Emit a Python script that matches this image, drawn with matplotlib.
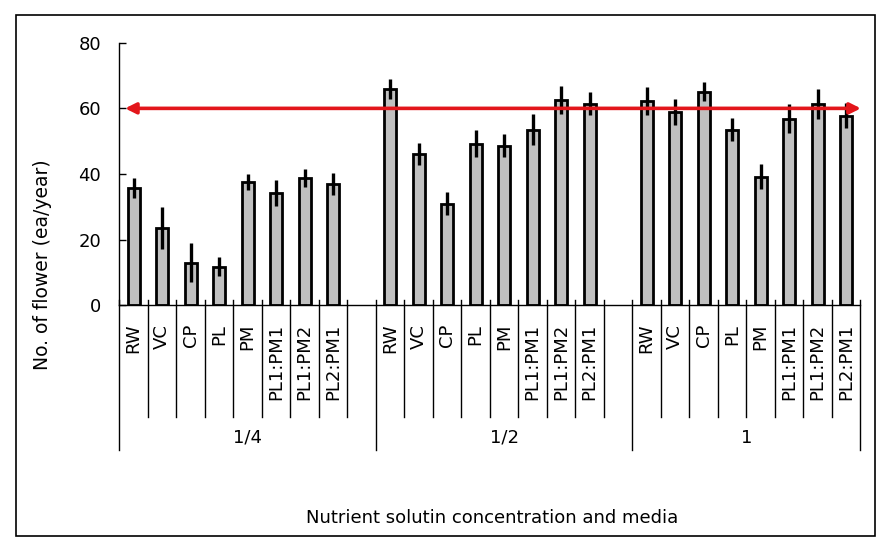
import matplotlib.pyplot as plt
import matplotlib.patches as patches
import numpy as np

plt.rcParams['font.family'] = ['DejaVu Sans']

# Data
groups = ["1/4", "1/2", "1"]
media = ["RW", "VC", "CP", "PL", "PM", "PL1:PM1", "PL1:PM2", "PL2:PM1"]
flowers_q = [35.7, 23.6, 13.0, 11.8, 37.5, 34.2, 38.8, 37.0]
flowers_h = [66.0, 46.2, 30.9, 49.2, 48.6, 53.5, 62.6, 61.4]
flowers_1 = [62.2, 59.0, 65.1, 53.5, 39.2, 56.8, 61.4, 57.8]
err_q = [3.1, 6.5, 6.0, 2.8, 2.5, 4.0, 2.7, 3.3]
err_h = [3.1, 3.4, 3.5, 4.1, 3.5, 4.7, 4.2, 3.5]
err_1 = [4.3, 4.0, 2.8, 3.5, 3.9, 4.4, 4.5, 3.7]
ref_level = 60

values = [flowers_q, flowers_h, flowers_1]
errors = [err_q, err_h, err_1]

n = len(media)
slot = n + 1  # one empty slot between groups
x_end = slot * (len(groups) - 1) + n

fig = plt.figure(figsize=(8.94, 5.52), dpi=100)
ax = fig.add_axes([0.1335, 0.4469, 0.8288, 0.4757])

for g in range(len(groups)):
    xs = g * slot + np.arange(n) + 0.5
    ax.bar(xs, values[g], width=0.42, color='#C0C0C0', edgecolor='black',
           linewidth=2.0, zorder=2)
    ax.errorbar(xs, values[g], yerr=errors[g], fmt='none', ecolor='black',
                elinewidth=2.4, capsize=0, zorder=3)

# reference line (double arrow)
ax.annotate('', xy=(0.2, ref_level), xytext=(x_end + 0.02, ref_level),
            arrowprops=dict(arrowstyle='<|-|>', color='#E3161B', lw=2.6,
                            mutation_scale=16, shrinkA=0, shrinkB=0),
            annotation_clip=False, zorder=4)

ax.set_xlim(0, x_end)
ax.set_ylim(0, 80)
ax.set_yticks([0, 20, 40, 60, 80])
ax.tick_params(axis='y', direction='in', length=5, width=1, pad=13, labelsize=13)
ax.set_xticks([])
for s in ['top', 'right']:
    ax.spines[s].set_visible(False)
ax.spines['left'].set_linewidth(1)
ax.spines['bottom'].set_linewidth(1)

# multi-level category axis
trans = ax.get_xaxis_transform()
for g in range(len(groups)):
    base = g * slot
    for i, m in enumerate(media):
        ax.text(base + i + 0.5, -0.07, m, rotation=90, ha='center', va='top',
                fontsize=13, transform=trans)
    for k in range(1, slot):
        if base + k < x_end:
            ax.plot([base + k, base + k], [0.02, -0.425], color='black', lw=1,
                    transform=trans, clip_on=False)
    right = min(base + slot, x_end)
    ax.text((base + right) / 2, -0.505, groups[g], ha='center', va='center',
            fontsize=13, transform=trans)
for b in [0, slot, 2 * slot, x_end]:
    ax.plot([b, b], [0.02, -0.551], color='black', lw=1, transform=trans,
            clip_on=False)

ax.set_ylabel('No. of flower (ea/year)', fontsize=13.5)
ax.yaxis.set_label_coords(0.058, 0.52, transform=fig.transFigure)
fig.text(0.55, 0.062, 'Nutrient solutin concentration and media', ha='center',
         va='center', fontsize=13)

# outer frame
fig.patches.append(patches.Rectangle((0.0179, 0.029), 0.961, 0.9438, fill=False,
                                     edgecolor='black', lw=1.2,
                                     transform=fig.transFigure))

fig.savefig('out.png', dpi=100)
